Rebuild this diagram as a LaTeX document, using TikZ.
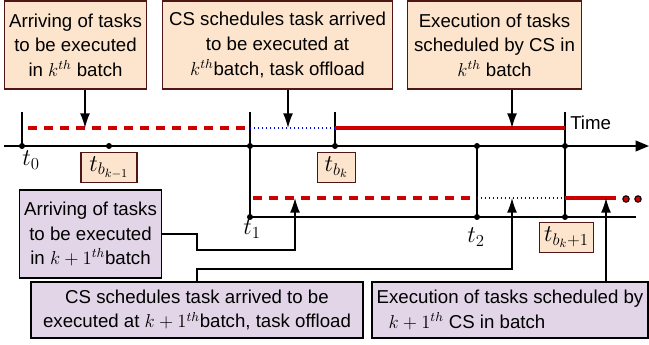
\RequirePackage{fix-cm}
\documentclass[tikz,border=0pt]{standalone}
\usepackage{amsmath}
\usepackage{fontspec}
\setmainfont{Liberation Sans}
\usetikzlibrary{arrows.meta}

\definecolor{boxorange}{RGB}{252,228,205}
\definecolor{boxbrown}{RGB}{80,22,22}
\definecolor{boxpurple}{RGB}{225,213,231}
\definecolor{slotred}{RGB}{204,0,0}
\definecolor{idleblue}{RGB}{0,0,230}

\tikzset{
  txt/.style={font=\fontsize{14}{18.5}\selectfont},
  tlabel/.style={font=\fontsize{18}{20}\selectfont},
  orangebox/.style={txt, draw=boxbrown, fill=boxorange, line width=0.9pt, align=center, inner sep=1pt},
  purplebox/.style={txt, draw=black, fill=boxpurple, line width=0.9pt, align=center, inner sep=1pt},
  axisline/.style={line width=1.1pt},
  pointer/.style={line width=1.1pt, -{Latex[length=11pt,width=7.5pt]}},
  waitslot/.style={slotred, line width=2.3pt, dash pattern={on 6.8pt off 5.2pt}},
  idleslot/.style={idleblue, line width=1.1pt, dash pattern={on 1pt off 2pt}},
  execslot/.style={slotred, line width=2.3pt},
  instant/.style={circle, fill=black, inner sep=0pt, minimum size=4.5pt}
}

\begin{document}
\begin{tikzpicture}[x=0.75pt,y=0.75pt,yscale=-1,xscale=1]
    \path[use as bounding box] (0,0) rectangle (649,345);

    % Time axes
    \coordinate (ax0) at (4,146);
    \coordinate (ax1) at (649,146);
    \coordinate (bx0) at (250,217);
    \coordinate (bx1) at (636,217);
    \draw[axisline, -{Triangle[length=10pt,width=8pt]}] (ax0) -- (ax1);
    \draw[axisline] (bx0) -- (bx1);

    % Instants on the axes
    \node[instant] (p0) at (22,146) {};
    \node[instant] (pbk1) at (109,146) {};
    \node[instant] (p1) at (250,146) {};
    \node[instant] (pbk) at (335,146) {};
    \node[instant] (p2) at (477,146) {};
    \node[instant] (pbkk) at (565,146) {};
    \node[instant] (q1) at (250,217) {};
    \node[instant] (q2) at (477,217) {};
    \node[instant] (qbkk) at (565,217) {};

    % Vertical ticks
    \draw[axisline] (22,112) -- (p0.center);
    \draw[axisline] (250,112) -- (q1.center);
    \draw[axisline] (335,112) -- (pbk.center);
    \draw[axisline] (p2.center) -- (q2.center);
    \draw[axisline] (565,112) -- (qbkk.center);

    % Batch k slots
    \coordinate (u0) at (28,128);
    \coordinate (u1) at (250,128);
    \coordinate (u2) at (335,128);
    \coordinate (u3) at (565,128);
    \draw[waitslot] (u0) -- (u1);
    \draw[idleslot] (u1) -- (u2);
    \draw[execslot] (u2) -- (u3);

    % Batch k+1 slots
    \coordinate (v0) at (253,198);
    \coordinate (v1) at (477,198);
    \coordinate (v2) at (565,198);
    \coordinate (v3) at (616,198);
    \draw[waitslot] (v0) -- (v1);
    \draw[idleslot] (v1) -- (v2);
    \draw[execslot] (v2) -- (v3);
    \filldraw[fill=slotred, draw=black, line width=0.8pt] (626,199) circle (3.2) (638,199) circle (3.2);

    % Text Node
    \node[tlabel] (t0) at (31,160) {$t_0$};
    \node[tlabel] (t1) at (252,229) {$t_1$};
    \node[tlabel] (t2) at (476,237) {$t_2$};
    \node[txt, anchor=west, inner sep=0pt] (time) at (570,123) {Time};

    % Batch boundaries
    \node[orangebox, tlabel, minimum width=42pt, minimum height=23pt] (tbk1) at (109,167.5) {$t_{b_{k-1}}$};
    \node[orangebox, tlabel, minimum width=28pt, minimum height=23pt] (tbk) at (336.5,167.5) {$t_{b_k}$};
    \node[orangebox, tlabel, minimum width=40pt, minimum height=23pt] (tbkk) at (566.5,237.5) {$t_{b_k+1}$};

    % Batch k boxes
    \node[orangebox, minimum width=107pt, minimum height=66pt] (arrk) at (75.5,45)
      {Arriving of tasks\\to be executed\\in $k^{th}$ batch};
    \node[orangebox, minimum width=172pt, minimum height=66pt] (schk) at (277.5,45)
      {CS schedules task arrived\\to be executed at\\$k^{th}$batch, task offload};
    \node[orangebox, minimum width=131pt, minimum height=66pt] (exek) at (494.5,45)
      {Execution of tasks\\scheduled by CS in\\$k^{th}$ batch};

    % Batch k+1 boxes
    \node[purplebox, minimum width=107pt, minimum height=66pt] (arrkk) at (90.5,234)
      {Arriving of tasks\\to be executed\\in $k+1^{th}$batch};
    \node[purplebox, minimum width=249pt, minimum height=42pt] (schkk) at (197,310)
      {CS schedules task arrived to be\\executed at $k+1^{th}$batch, task offload};
    \node[purplebox, minimum width=207pt, minimum height=42pt, align=left] (exekk) at (510,310)
      {Execution of tasks scheduled by\\\hspace{9pt}$k+1^{th}$ CS in batch};

    % Pointers
    \coordinate (a1) at (85,128);
    \coordinate (a2) at (288,128);
    \coordinate (a3) at (512,128);
    \draw[pointer] (arrk.south -| a1) -- (a1);
    \draw[pointer] (schk.south -| a2) -- (a2);
    \draw[pointer] (exek.south -| a3) -- (a3);

    \coordinate (b1) at (295,198);
    \coordinate (b2) at (512,198);
    \coordinate (b3) at (606,198);
    \draw[pointer] (arrkk.east) -| (197,250) -| (b1);
    \draw[pointer] (schkk.north -| 197,0) |- (512,269) -- (b2);
    \draw[pointer] (exekk.north -| b3) -- (b3);
\end{tikzpicture}
\end{document}
